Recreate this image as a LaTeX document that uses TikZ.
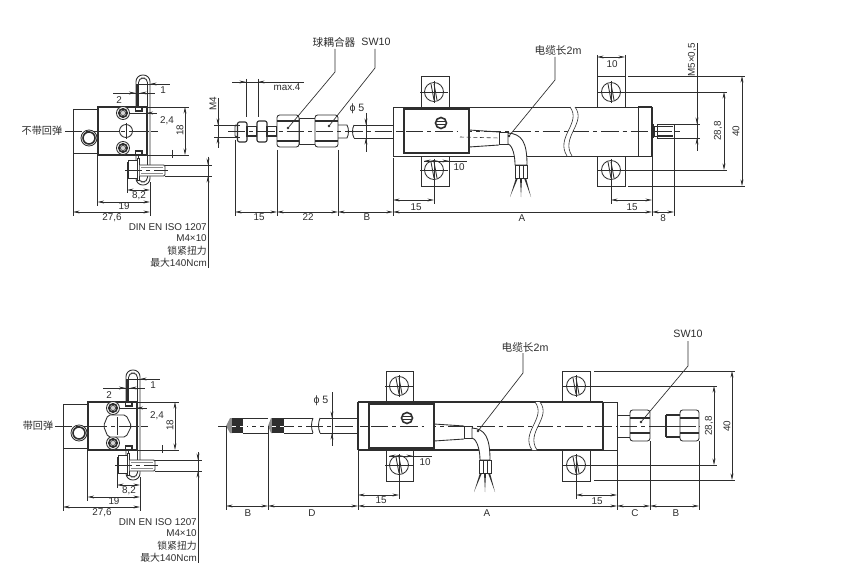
\documentclass[tikz,border=0pt]{standalone}
\usepackage{fontspec}
\setmainfont{Liberation Sans}
\newfontfamily\cjk{Noto Sans CJK SC}
\usetikzlibrary{arrows.meta}
\definecolor{ink}{HTML}{2E2E2E}
\tikzset{
  >={Stealth[length=5pt,width=2.2pt]},
  thin part/.style={draw=ink,line width=0.45pt},
  part/.style={draw=ink,line width=0.65pt},
  mid part/.style={draw=ink,line width=0.85pt},
  bold part/.style={draw=ink,line width=1.2pt},
  dimline/.style={draw=ink,line width=0.45pt},
  centre/.style={draw=ink,line width=0.45pt,dash pattern=on 13pt off 3pt on 3pt off 3pt},
  lab/.style={text=ink,font=\fontsize{7.4}{8}\selectfont,inner sep=0pt},
  bigl/.style={text=ink,font=\fontsize{8}{9}\selectfont,inner sep=0pt},
  leader/.style={draw=ink,line width=0.5pt},
}
\newcounter{lb}
\newcommand\lbl[3]{\stepcounter{lb}\node[lab] (lab\thelb) at (#1,#2) {#3};}
\newcommand\lblr[3]{\stepcounter{lb}\node[lab,rotate=90] (lab\thelb) at (#1,#2) {#3};}
\newcommand\lble[3]{\stepcounter{lb}\node[lab,anchor=east] (lab\thelb) at (#1,#2) {#3};}
\newcommand\lblb[3]{\stepcounter{lb}\node[bigl] (lab\thelb) at (#1,#2) {#3};}
\newcommand\hdim[3]{\draw[dimline,<->] (#2,#1) -- (#3,#1);}
\newcommand\vdim[3]{\draw[dimline,<->] (#1,#2) -- (#1,#3);}
\newcommand\lin[4]{\draw[dimline] (#1,#2) -- (#3,#4);}
% bracket: x1 x2 y1 y2 cx cy
\newcommand\lug[6]{%
  \draw[part,fill=white] (#1,#3) rectangle (#2,#4);
  \draw[part,fill=white] (#5,#6) circle (9.5);
  \draw[thin part] (#5-14,#6) -- (#5+14,#6);
  \draw[thin part] (#5,#6-11) -- (#5,#6+11);
  \draw[part] (#5-3,#6-8) -- (#5,#6+8);
  \draw[part] (#5,#6-8) -- (#5+3,#6+8);
}
% nut: x1 x2 y1 y2 inset
\newcommand\nut[5]{%
  \draw[part,fill=white,rounded corners=2pt] (#1,#3) rectangle (#2,#4);
  \draw[bold part] (#1,#3+#5) -- (#2,#3+#5);
  \draw[bold part] (#1,#4-#5) -- (#2,#4-#5);
}
\newcommand\screwhead[2]{%
  \draw[part,fill=white] (#1,#2) circle (6.5);
  \draw[bold part,fill=white] (#1,#2) circle (4.2);
  \draw[thin part,fill=white!80!ink] (#1,#2) circle (2.6);
}
\newcommand\brk[3]{% xtop ytop ybot
  \fill[white] (#1,#2) .. controls (#1+12,#2+16) and (#1-15,#2+30) .. (#1-3,#3) -- (#1+2,#3) .. controls (#1-10,#2+30) and (#1+17,#2+16) .. (#1+5,#2) -- cycle;
  \draw[thin part] (#1,#2) .. controls (#1+12,#2+16) and (#1-15,#2+30) .. (#1-3,#3);
  \draw[thin part] (#1+5,#2) .. controls (#1+17,#2+16) and (#1-10,#2+30) .. (#1+2,#3);
}
\newcommand\wirestub[2]{% centre x of sleeve, y
  \draw[part,fill=white] (#1-6,#2) rectangle (#1+6,#2+13);
  \draw[thin part] (#1-2,#2) -- (#1-2,#2+13);
  \draw[thin part] (#1+2,#2) -- (#1+2,#2+13);
  \fill[ink] (#1-5,#2+13) -- (#1-11,#2+32) -- (#1-3,#2+13) -- cycle;
  \fill[ink] (#1-1,#2+13) -- (#1,#2+32) -- (#1+1,#2+13) -- cycle;
  \fill[ink] (#1+3,#2+13) -- (#1+10,#2+32) -- (#1+5,#2+13) -- cycle;
}
\newcommand\sideview{%
  \draw[part,rounded corners=5pt] (136,108) -- (136,75) -- (150,75) -- (150,185) -- (136,185) -- (136,155);
  \draw[part,rounded corners=3.4pt] (138.5,108) -- (138.5,78) -- (147.5,78) -- (147.5,182) -- (138.5,182) -- (138.5,155);
  \draw[bold part] (137,84) -- (137,107);
  \draw[part] (73,109) -- (98,109);
  \draw[part] (73,153) -- (98,153);
  \draw[part] (73,109) -- (73,153);
  \draw[bold part,fill=white] (98,107) rectangle (146.5,155);
  \draw[part,fill=white] (89,138) circle (8);
  \draw[bold part,fill=white] (89,138) circle (6);
  \draw[centre] (65,131) -- (158,131);
  \screwhead{123}{113}
  \screwhead{123}{148}
  \draw[bold part] (135.5,107) -- (135.5,111) -- (142,111) -- (142,107);
  \draw[bold part] (135.5,155) -- (135.5,151) -- (142,151) -- (142,155);
  % bolt
  \draw[part,fill=white] (128,160) rectangle (137,178);
  \draw[part,fill=white] (137,158) rectangle (139.5,180);
  \draw[part,fill=white,rounded corners=1pt] (139.5,165) -- (165,165) -- (165,176) -- (139.5,176);
  \draw[draw=ink!55,line width=1pt] (141,167.5) -- (163,167.5);
  \draw[draw=ink!55,line width=1pt] (141,173.5) -- (163,173.5);
  \draw[centre] (125,170.5) -- (168,170.5);
  % dims
  \lin{136}{84}{170}{84}
  \draw[dimline,->] (157,84) -- (150,84);
  \lin{113}{93}{155}{93}
  \draw[dimline,->] (125,93) -- (135.5,93);
  \draw[dimline,->] (150,93) -- (140,93);
  \lin{130}{113}{157}{113}
  \draw[dimline,->] (153,113) -- (146.5,113);
  \lin{146.5}{107}{189}{107}
  \lin{146.5}{155}{189}{155}
  \lin{172}{150}{172}{158}
  \vdim{185}{107}{155}
  \lin{127}{162}{127}{193}
  \lin{150}{182}{150}{216}
  \lin{97.5}{155}{97.5}{206}
  \lin{73}{153}{73}{216}
  \hdim{190}{127}{150}
  \hdim{202}{97.5}{150}
  \hdim{212}{73}{150}
  \lin{165}{165}{212}{165}
  \lin{165}{176}{212}{176}
  \lin{208}{157}{208}{268}
  \draw[dimline,->] (208,157) -- (208,165);
  \draw[dimline,->] (208,184) -- (208,176);
  \lbl{163}{90}{1}
  \lbl{119}{100}{2}
  \lbl{167}{121}{2,4}
  \lblr{180}{130}{18}
  \lbl{139}{196}{8,2}
  \lbl{124}{206.5}{19}
  \lbl{112}{218}{27,6}
  \lble{207}{227}{DIN EN ISO 1207}
  \lble{207}{238.5}{M4×10}
  \lble{207}{251}{{\cjk 锁紧扭力}}
  \lble{207}{263}{{\cjk 最大}140Ncm}
}
\begin{document}
\begin{tikzpicture}[x=0.75pt,y=-0.75pt]
\useasboundingbox (0,0) rectangle (854,585);
\fill[white] (0,0) rectangle (854,585);

% ===== upper side view
\sideview
\draw[part,fill=white] (126,131) circle (6.5);
\draw[thin part] (126,123) -- (126,139);
\draw[centre] (100,131) -- (158,131);
\stepcounter{lb}\node[lab,font=\fontsize{7.6}{8}\selectfont\cjk,fill=white] (lab\thelb) at (42,131) {不带回弹};

% ===== lower side view
\begin{scope}[shift={(-10,295)}]
\sideview
\draw[part,fill=white,rounded corners=1.5pt] (113.5,131) -- (118,120) -- (136,120) -- (141.5,131) -- (136,142) -- (118,142) -- cycle;
\draw[centre] (100,131) -- (153,131);
\draw[thin part] (127,122) -- (127,140);
\stepcounter{lb}\node[lab,font=\fontsize{7.6}{8}\selectfont\cjk,fill=white] (lab\thelb) at (48,131) {带回弹};
\end{scope}

% ===== upper main view: rod side
\draw[centre] (228,131) -- (640,131);
\draw[part,fill=white,rounded corners=1pt] (235,125) rectangle (237.5,137);
\draw[mid part,fill=white,rounded corners=1.5pt] (237.5,122) rectangle (247,142);
\draw[mid part,fill=white] (247,126.5) rectangle (257,136);
\draw[mid part,fill=white,rounded corners=1.5pt] (257,121) rectangle (267,142);
\draw[mid part,fill=white] (267,126.5) rectangle (277,136);
\draw[part,fill=white] (299,118) rectangle (315,144);
\nut{277}{299}{115}{147}{6}
\nut{315}{338}{115}{147}{6}
\draw[part] (338,125) -- (347,125) .. controls (349,129) and (349,134) .. (347,138) -- (338,138);
\draw[part] (354,125) -- (393,125);
\draw[part] (354,138) -- (393,138);
\draw[part] (354,125) .. controls (352,129) and (352,134) .. (354,138);
\draw[centre] (228,131) -- (393,131);
\fill[ink] (288,128) circle (1.4);
\fill[ink] (329,126) circle (1.4);
\lblb{334}{42}{\cjk 球耦合器}
\lblb{376}{42}{SW10}
\draw[leader] (335,49) -- (335,72) -- (288,128);
\draw[leader] (375,49) -- (375,68) -- (329,126);
% M4 left
\lin{214}{125}{240}{125}
\lin{214}{137}{240}{137}
\lin{218}{98}{218}{148}
\draw[dimline,->] (218,115) -- (218,125);
\draw[dimline,->] (218,148) -- (218,137);
\lblr{213}{103.5}{M4}
% max.4
\lin{232}{82}{304}{82}
\draw[dimline,->] (237,82) -- (246,82);
\draw[dimline,->] (268,82) -- (258,82);
\lin{246}{79}{246}{117}
\lin{258}{79}{258}{117}
\lbl{287}{87}{max.4}
% phi 5
\lin{366}{113}{366}{152}
\draw[dimline,->] (366,116) -- (366,125);
\draw[dimline,->] (366,150) -- (366,138);
\lblb{357}{108.5}{ϕ 5}
% chain
\lin{235}{140}{235}{216}
\lin{277}{150}{277}{216}
\lin{338}{150}{338}{216}
\lin{393}{158}{393}{216}
\hdim{212}{235}{277}
\hdim{212}{277}{338}
\hdim{212}{338}{393}
\hdim{212}{393}{652}
\hdim{212}{652}{674}
\lbl{259}{217.5}{15}
\lbl{308}{217.5}{22}
\lbl{367}{217.5}{B}
\lbl{522}{218}{A}
\lbl{663}{218}{8}

% ===== upper body
\lug{421}{449}{76}{107}{434}{92}
\lug{421}{449}{156}{186}{434}{170}
\lug{597}{625}{76}{107}{611}{92}
\lug{597}{625}{156}{186}{611}{170}
\draw[part,fill=white] (393,107) rectangle (652,156);
\draw[centre] (396,131) -- (680,131);
\draw[bold part] (652,107) -- (652,156);
\draw[bold part] (638,107) -- (652,107);
\draw[part] (638,107) -- (638,156);
\brk{570}{107}{156}
\draw[bold part,fill=white] (404,109) rectangle (469,153);
\draw[centre] (406,131) -- (458,131);
\draw[bold part,fill=white] (441,123) circle (5.5);
\draw[part] (436,121.5) -- (446,121.5);
\draw[part] (436,124.5) -- (446,124.5);
% cable
\draw[part] (469,130) -- (499,132);
\draw[part] (469,147) -- (499,145);
\draw[part,fill=white] (499,132) rectangle (508,144);
\draw[part,fill=white] (508,133) .. controls (522,134) and (527,142) .. (527,165) -- (515,165) .. controls (515,150) and (510,144) .. (508,144) -- cycle;
\draw[thin part,dash pattern=on 3pt off 2pt] (460,137) -- (499,138);
\wirestub{521}{165}
\fill[ink] (509,136) circle (1.4);
\draw[leader] (555,57) -- (555,80) -- (509,136);
\lblb{558}{50}{{\cjk 电缆长}2m}
% threaded end
\draw[bold part] (653,124) -- (653,138);
\draw[part,fill=white] (654,126) rectangle (657,136);
\draw[part,fill=white] (657,124.5) rectangle (674,138);
\draw[bold part] (658,126.5) -- (673,126.5);
\draw[bold part] (658,136) -- (673,136);
\draw[centre] (655,131) -- (682,131);
% right dims
\lin{597}{55}{597}{76}
\lin{625}{55}{625}{76}
\hdim{57}{597}{625}
\lbl{612}{64}{10}
\lin{628}{76}{745}{76}
\lin{628}{186}{745}{186}
\vdim{742}{76}{186}
\lblr{736}{131}{40}
\lin{597}{92}{727}{92}
\lin{597}{170}{727}{170}
\vdim{724}{92}{170}
\lblr{718}{131}{28,8}
\lin{697}{43}{697}{151}
\draw[dimline,->] (697,115) -- (697,124);
\draw[dimline,->] (697,148) -- (697,138);
\lin{675}{124}{700}{124}
\lin{675}{138}{700}{138}
\lblr{692}{60}{M5×0,5}
\lin{611}{170}{611}{204}
\lin{652}{156}{652}{216}
\lin{674}{138}{674}{216}
\hdim{200}{611}{652}
\lbl{632}{207}{15}
\lin{434}{170}{434}{204}
\hdim{200}{393}{434}
\lbl{416}{207}{15}
\lin{424}{161}{467}{161}
\draw[dimline,->] (434,161) -- (424,161);
\draw[dimline,->] (440,161) -- (449,161);
\lbl{459}{167}{10}

% ===== lower main view
\draw[centre] (218,426) -- (358,426);
\draw[part] (243,418) -- (268,418);
\draw[part] (243,433) -- (268,433);
\draw[part] (284,418) -- (313,418);
\draw[part] (284,433) -- (313,433);
\draw[part] (313,418) .. controls (311,423) and (311,428) .. (313,433);
\draw[part] (320,418) -- (358,418);
\draw[part] (320,433) -- (358,433);
\draw[part] (320,418) .. controls (318,423) and (318,428) .. (320,433);
\fill[ink!55] (226,426) -- (230,418) -- (232.5,418) -- (232.5,433) -- (230,433) -- cycle;
\fill[ink] (232,418) rectangle (243,433);
\fill[ink!55] (268,426) -- (271,418) -- (272.5,418) -- (272.5,433) -- (271,433) -- cycle;
\fill[ink] (272,418) rectangle (284,433);
\draw[draw=white,line width=0.4pt,dash pattern=on 3pt off 3pt] (232,426) -- (284,426);
\lin{332}{392}{332}{446}
\draw[dimline,->] (332,408) -- (332,418);
\draw[dimline,->] (332,444) -- (332,433);
\lblb{321}{400.5}{ϕ 5}
\lin{226}{426}{226}{510}
\lin{268}{426}{268}{510}
\lin{358}{449}{358}{510}
\hdim{506}{226}{268}
\hdim{506}{268}{358}
\hdim{506}{358}{617}
\hdim{506}{617}{650}
\hdim{506}{650}{699}
\lbl{248}{513}{B}
\lbl{312}{513}{D}
\lbl{487}{513}{A}
\lbl{635}{513}{C}
\lbl{676}{513}{B}

\lug{386}{413}{371}{402}{399}{386}
\lug{386}{413}{450}{481}{399}{465}
\lug{562}{590}{371}{402}{576}{386}
\lug{562}{590}{450}{481}{576}{465}
\draw[part,fill=white] (358,402) rectangle (617,450);
\draw[mid part] (358,402) -- (603,402);
\draw[mid part] (358,450) -- (603,450);
\draw[mid part] (358,402) -- (358,450);
\draw[part] (603,402) -- (617,402) -- (617,450) -- (603,450);
\draw[mid part] (603,402) -- (603,450);
\draw[centre] (360,426) -- (700,426);
\brk{535}{402}{450}
\draw[bold part,fill=white] (369,404) rectangle (434,448);
\draw[centre] (371,426) -- (424,426);
\draw[bold part,fill=white] (407,418) circle (5.5);
\draw[part] (402,416.5) -- (412,416.5);
\draw[part] (402,419.5) -- (412,419.5);
% cable lower
\draw[part] (434,424) -- (464,426);
\draw[part] (434,441) -- (464,439);
\draw[part,fill=white] (464,426.5) rectangle (472,438);
\draw[part,fill=white] (472,428) .. controls (485,429) and (490,437) .. (490,460) -- (480,460) .. controls (480,446) and (475,438) .. (472,438) -- cycle;
\wirestub{485}{460}
\fill[ink] (478,431) circle (1.4);
\draw[leader] (523,353) -- (523,373) -- (478,431);
\lblb{525}{347}{{\cjk 电缆长}2m}
% end fittings lower
\draw[part,fill=white] (617,415) rectangle (630,437);
\nut{630}{650}{410}{441}{8}
\draw[mid part] (666,415) -- (680,415);
\draw[mid part] (666,437) -- (680,437);
\draw[mid part] (666,415) -- (666,437);
\nut{680}{699}{410}{441}{8}
\draw[centre] (620,426) -- (700,426);
\fill[ink] (641,422) circle (1.4);
\draw[leader] (688,341) -- (688,366) -- (641,422);
\lblb{688}{334}{SW10}
% dims lower
\lin{594}{371}{735}{371}
\lin{594}{480}{735}{480}
\vdim{732}{371}{480}
\lblr{727}{426}{40}
\lin{562}{386}{717}{386}
\lin{562}{465}{717}{465}
\vdim{714}{386}{465}
\lblr{709}{426}{28,8}
\lin{617}{450}{617}{510}
\lin{650}{441}{650}{510}
\lin{699}{441}{699}{510}
\lin{399}{465}{399}{499}
\hdim{495}{358}{399}
\lbl{381}{500.5}{15}
\lin{576}{465}{576}{499}
\hdim{495}{576}{617}
\lbl{597}{501}{15}
\lin{389}{456}{432}{456}
\draw[dimline,->] (399,456) -- (389,456);
\draw[dimline,->] (405,456) -- (413,456);
\lbl{425}{462}{10}
\end{tikzpicture}
\end{document}
